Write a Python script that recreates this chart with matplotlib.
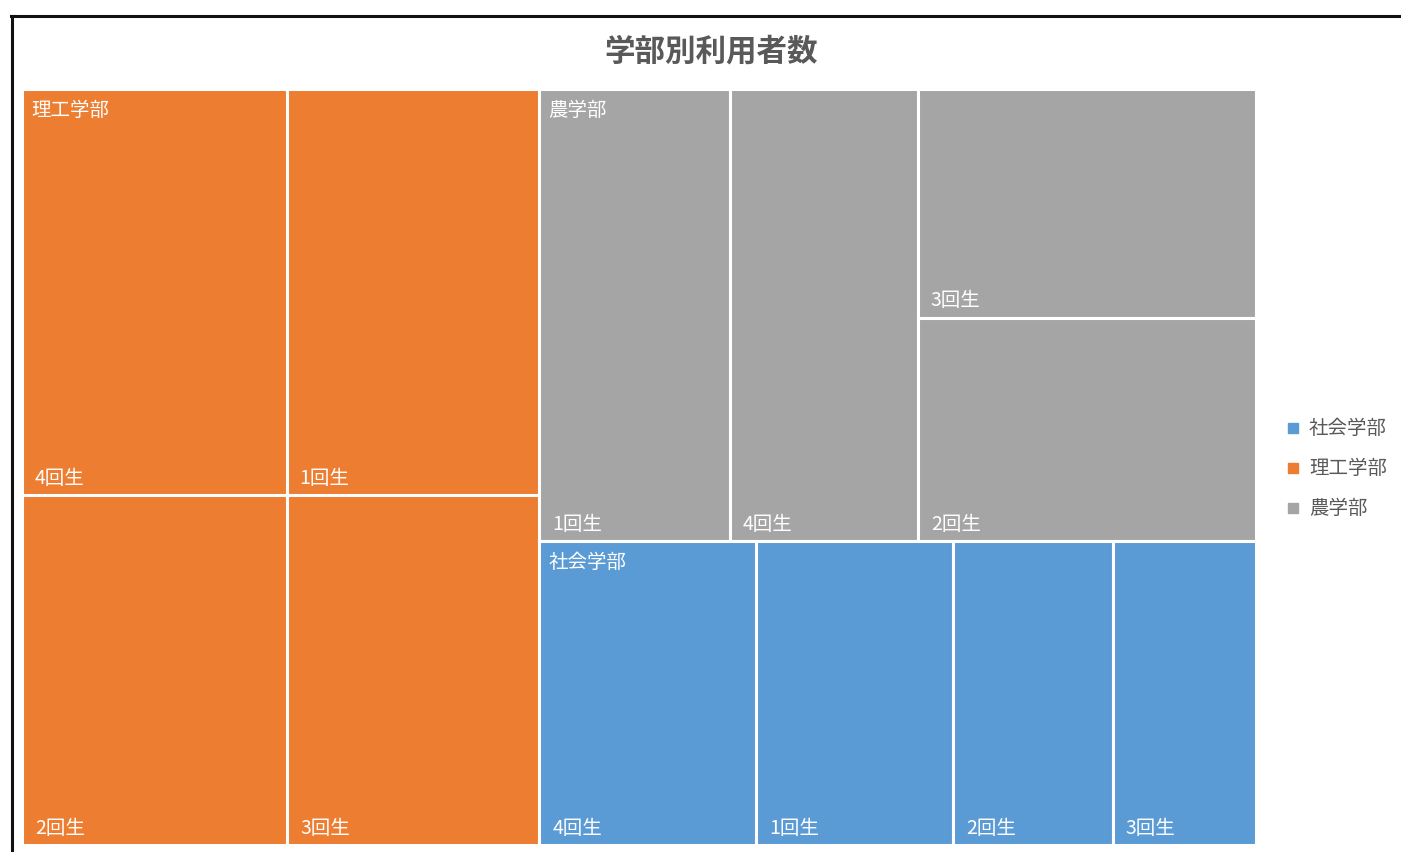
import matplotlib
matplotlib.use("Agg")
import matplotlib.pyplot as plt
from matplotlib.patches import Rectangle
from matplotlib.lines import Line2D

plt.rcParams['font.family'] = ['Noto Sans CJK JP', 'DejaVu Sans']

# === Data ===
faculties = ["理工学部", "農学部", "社会学部"]
rikou_years = ["4回生", "1回生", "2回生", "3回生"]
rikou_counts = [111, 106, 96, 91]
nou_years = ["1回生", "4回生", "3回生", "2回生"]
nou_counts = [89, 88, 80, 78]
shakai_years = ["4回生", "1回生", "2回生", "3回生"]
shakai_counts = [68, 62, 50, 45]

legend_order = ["社会学部", "理工学部", "農学部"]
colors = {"理工学部": "#ED7D31", "農学部": "#A5A5A5", "社会学部": "#5B9BD5"}
groups = {
    "理工学部": (rikou_years, rikou_counts),
    "農学部": (nou_years, nou_counts),
    "社会学部": (shakai_years, shakai_counts),
}

TARGET = 0.81  # preferred cell shape (width / height)


def squarify(vals, x, y, w, h, target=TARGET):
    """Squarified layout, y grows downwards. Returns (x, y, w, h) per value."""
    rects = []
    i = 0
    while i < len(vals):
        scale = w * h / sum(vals[i:])
        along_top = w < h

        def dims(row):
            s = sum(row) * scale
            if along_top:
                th = s / w
                return [(v * scale / th, th) for v in row]
            tw = s / h
            return [(tw, v * scale / tw) for v in row]

        def worst(row):
            return max(max(cw / ch / target, target * ch / cw) for cw, ch in dims(row))

        j = i + 1
        while j < len(vals) and worst(vals[i:j + 1]) <= worst(vals[i:j]):
            j += 1
        d = dims(vals[i:j])
        if along_top:
            cx = x
            for cw, ch in d:
                rects.append((cx, y, cw, ch))
                cx += cw
            y += d[0][1]
            h -= d[0][1]
        else:
            cy = y
            for cw, ch in d:
                rects.append((x, cy, cw, ch))
                cy += ch
            x += d[0][0]
            w -= d[0][0]
        i = j
    return rects


# === Figure ===
fig = plt.figure(figsize=(14.01, 8.52), dpi=100)
W, H = 1234, 756
ax = fig.add_axes([22 / 1401, 7 / 852, W / 1401, H / 852])
ax.set_xlim(0, W)
ax.set_ylim(H, 0)
ax.axis("off")

totals = [sum(groups[f][1]) for f in faculties]
order = sorted(range(len(faculties)), key=lambda k: -totals[k])
outer = squarify([totals[k] for k in order], 0, 0, W, H)

for k, (gx, gy, gw, gh) in zip(order, outer):
    name = faculties[k]
    years, counts = groups[name]
    idx = sorted(range(len(counts)), key=lambda m: -counts[m])
    inner = squarify([counts[m] for m in idx], gx, gy, gw, gh)
    for m, (cx, cy, cw, ch) in zip(idx, inner):
        ax.add_patch(Rectangle((cx, cy), cw, ch, facecolor=colors[name],
                               edgecolor="white", linewidth=2.2))
        ax.text(cx + 13, cy + ch - 17, years[m], color="white", fontsize=14,
                ha="left", va="center")
    ax.text(gx + 9, gy + 21, name, color="white", fontsize=14,
            ha="left", va="center")

fig.text(711 / 1401, 1 - 51 / 852, "学部別利用者数", ha="center", va="center",
         fontsize=22, fontweight="bold", color="#595959")

# legend
for n, name in enumerate(legend_order):
    ly = 1 - (428 + 40 * n) / 852
    fig.add_artist(Line2D([1293 / 1401], [ly], marker="s", markersize=7,
                          color=colors[name], linestyle="", transform=fig.transFigure))
    fig.text(1309 / 1401, ly, name, ha="left", va="center", fontsize=14, color="#595959")

# chart frame
fig.add_artist(Line2D([11 / 1401, 1], [1 - 16 / 852, 1 - 16 / 852], color="#111111",
                      linewidth=2.2, transform=fig.transFigure))
fig.add_artist(Line2D([12 / 1401, 12 / 1401], [0, 1 - 16 / 852], color="#111111",
                      linewidth=2.2, transform=fig.transFigure))

fig.savefig("out.png", dpi=100)
